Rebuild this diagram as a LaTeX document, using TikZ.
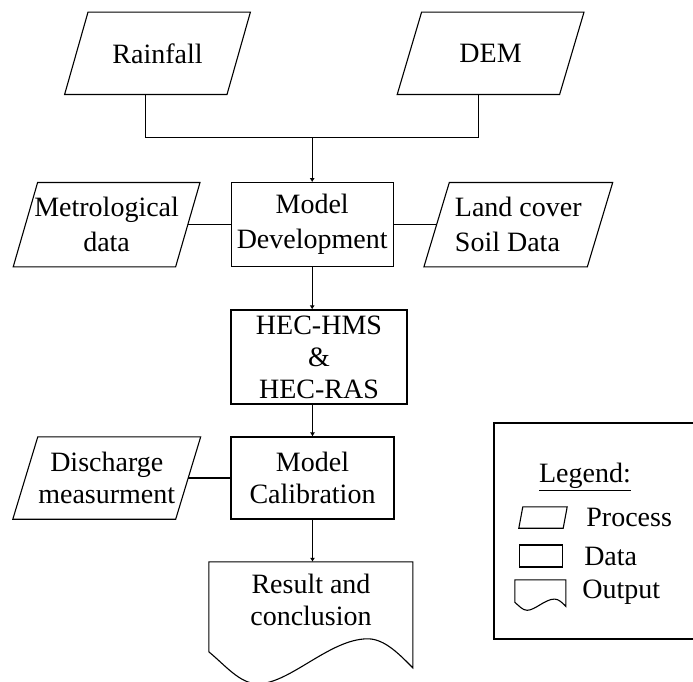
\documentclass[tikz,border=0pt]{standalone}
\usepackage{fontspec}
\setmainfont{Liberation Serif}
\usetikzlibrary{arrows.meta, positioning}

\newcommand{\slantbox}[2]{%
  \draw[line] ([xshift=#2]#1.north west) -- ([xshift=#2]#1.north east)
    -- ([xshift=-#2]#1.south east) -- ([xshift=-#2]#1.south west) -- cycle;}
\newcommand{\docbox}[2]{%
  \draw[line, shift={(#1.north west)}, scale=#2] (0,0) -- (0,90)
    .. controls (16,103) and (31,122) .. (49,122)
    .. controls (81,122) and (121,77) .. (159,77)
    .. controls (176,77) and (191,93) .. (204,106) -- (204,0) -- cycle;}

\begin{document}
\begin{tikzpicture}
    [
        x=1pt, y=-1pt,
        font=\fontsize{28}{32}\selectfont,
        node distance=18pt,
        line/.style  ={draw=black, line width=1.1pt},
        box/.style   ={draw=black, line width=1.1pt, inner sep=2pt, align=center},
        slant/.style ={inner sep=2pt, align=center},
        txt/.style   ={inner sep=3pt},
        oarc/.style  ={line, -{Latex[length=4pt,width=5pt]}},
        frame/.style ={draw=black, line width=1.6pt}
    ]
    \useasboundingbox (0,0) rectangle (693,681);

    \node[slant, minimum width=162, minimum height=82] (rain) at (157.5,53.3) {Rainfall};
    \node[slant, minimum width=162, minimum height=82] (dem)  at (490.6,53.3) {DEM};

    \node[box,   minimum width=162, minimum height=84] (dev)  at (312.2,224.7) {Model\\[3pt]Development};
    \node[slant, minimum width=162, minimum height=84] (met)  at (106.6,224.7) {Metrological\\[3pt]data};
    \node[slant, minimum width=163, minimum height=84, align=left] (land) at (518.3,224.7) {Land cover\\[3pt]Soil Data};

    \node[box,   minimum width=176, minimum height=94]  (hec)  at (319,357)   {HEC-HMS\\\&\\HEC-RAS};
    \node[box,   minimum width=163, minimum height=82]  (cal)  at (312.5,478) {Model\\Calibration};
    \node[slant, minimum width=162.5, minimum height=82] (dis) at (106.75,478) {Discharge\\measurment};
    \node[slant, minimum width=204, minimum height=76]  (res)  at (311,600)   {Result and\\conclusion};

    \slantbox{rain}{11.7}
    \slantbox{dem}{12.2}
    \slantbox{met}{12.2}
    \slantbox{land}{12.7}
    \slantbox{dis}{12.5}
    \docbox{res}{1}

    \coordinate (join) at (312.2,137.7);
    \draw[line]     ([xshift=-11.7]rain.south) |- (join) -| ([xshift=-12.2]dem.south);
    \draw[oarc]     (join) -- (dev.north);
    \draw[line]     (met) -- (dev);
    \draw[line]     (dev) -- (land);
    \draw[oarc]     (dev.south) -- (dev.south |- hec.north);
    \draw[oarc]     (cal.north |- hec.south) -- (cal.north);
    \draw[line]     (dis) -- (cal);
    \draw[oarc]     (cal.south) -- (cal.south |- res.north);

    % legend
    \node[frame, minimum width=206, minimum height=216] (legend) at (597,531) {};
    \node[txt]      (lgtitle) at (585,477)   {\underline{Legend:}};
    \node[slant, minimum width=44, minimum height=21] (lgproc) at (543,517.5) {};
    \node[box,   minimum width=43, minimum height=22] (lgdata) at (541,556)   {};
    \node[inner sep=0pt, minimum width=51, minimum height=24] (lgout) at (540.5,592) {};
    \slantbox{lgproc}{2}
    \docbox{lgout}{0.25}

    \node[txt]      (tproc) [right=of lgproc]      {Process};
    \node[txt]      (tdata) [right=of lgdata]      {Data};
    \node[txt]      (tout)  [right=13pt of lgout]  {Output};

\end{tikzpicture}
\end{document}
